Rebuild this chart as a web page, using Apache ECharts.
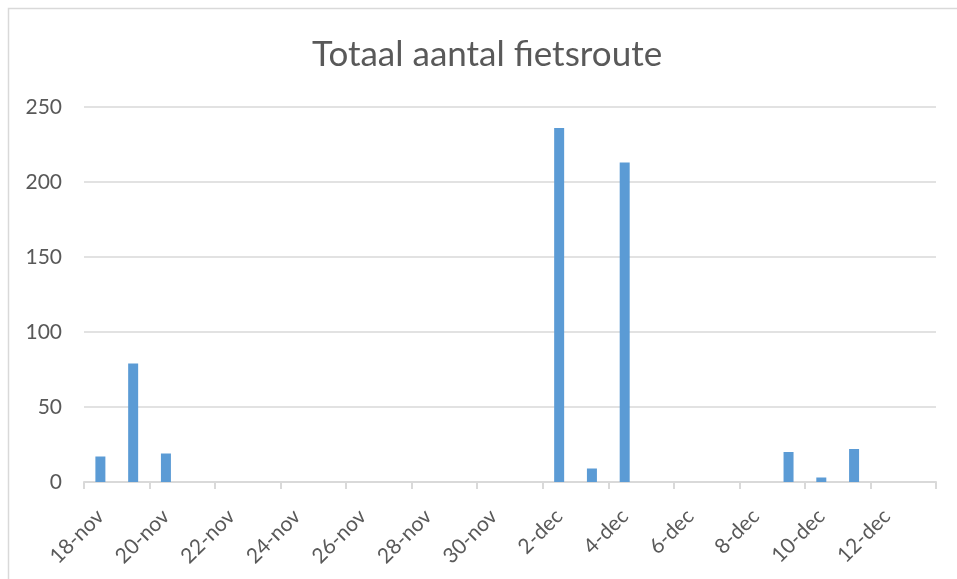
<!DOCTYPE html>
<html>
<head>
<meta charset="utf-8">
<script src="https://cdn.jsdelivr.net/npm/echarts@6/dist/echarts.min.js"></script>
<style>
  html, body { margin: 0; padding: 0; background: #fff; }
  #main { width: 957px; height: 579px; }
</style>
</head>
<body>
<div id="main"></div>
<script>
// dagen op de as (18-nov t/m 13-dec)
var dagen = ['18-nov', '19-nov', '20-nov', '21-nov', '22-nov', '23-nov', '24-nov',
  '25-nov', '26-nov', '27-nov', '28-nov', '29-nov', '30-nov', '1-dec', '2-dec',
  '3-dec', '4-dec', '5-dec', '6-dec', '7-dec', '8-dec', '9-dec', '10-dec',
  '11-dec', '12-dec', '13-dec'];

// aantal fietsroutes per dag
var aantal = [17, 79, 19, 0, 0, 0, 0,
  0, 0, 0, 0, 0, 0, 0, 236,
  9, 213, 0, 0, 0, 0, 20, 3,
  22, 0, 0];

var yTicks = { min: 0, max: 250, interval: 50 };

var chartDom = document.getElementById('main');
var myChart = echarts.init(chartDom);
var option;

var grijs = '#595959';
var lijn = '#D9D9D9';
var font = 'Lato';

option = {
  animation: false,
  backgroundColor: '#fff',
  title: {
    text: 'Totaal aantal fietsroute',
    left: 307,
    top: 32,
    textStyle: {
      fontFamily: font,
      fontSize: 35,
      fontWeight: 'normal',
      color: grijs
    }
  },
  graphic: [
    {
      type: 'rect',
      shape: { x: 8.5, y: 8.5, width: 1000, height: 1000 },
      style: { fill: 'none', stroke: lijn, lineWidth: 1.5 },
      silent: true
    }
  ],
  grid: {
    left: 84,
    right: 21,
    top: 107,
    bottom: 97,
    containLabel: false,
    outerBoundsMode: 'none'
  },
  xAxis: {
    type: 'category',
    data: dagen,
    boundaryGap: true,
    axisLine: { show: true, lineStyle: { color: lijn, width: 2 } },
    axisTick: {
      show: true,
      interval: 1,
      length: 7,
      lineStyle: { color: lijn, width: 2 }
    },
    axisLabel: {
      interval: 1,
      rotate: 45,
      margin: 31,
      fontFamily: font,
      fontSize: 21,
      color: grijs
    }
  },
  yAxis: {
    type: 'value',
    min: yTicks.min,
    max: yTicks.max,
    interval: yTicks.interval,
    axisLine: { show: false },
    axisTick: { show: false },
    axisLabel: {
      margin: 22,
      fontFamily: font,
      fontSize: 21,
      color: grijs
    },
    splitLine: { lineStyle: { color: lijn, width: 1.5 } }
  },
  series: [
    {
      name: 'Totaal',
      type: 'bar',
      barWidth: 10,
      itemStyle: { color: '#5B9BD5' },
      data: aantal
    }
  ]
};

option && myChart.setOption(option);
</script>
</body>
</html>
